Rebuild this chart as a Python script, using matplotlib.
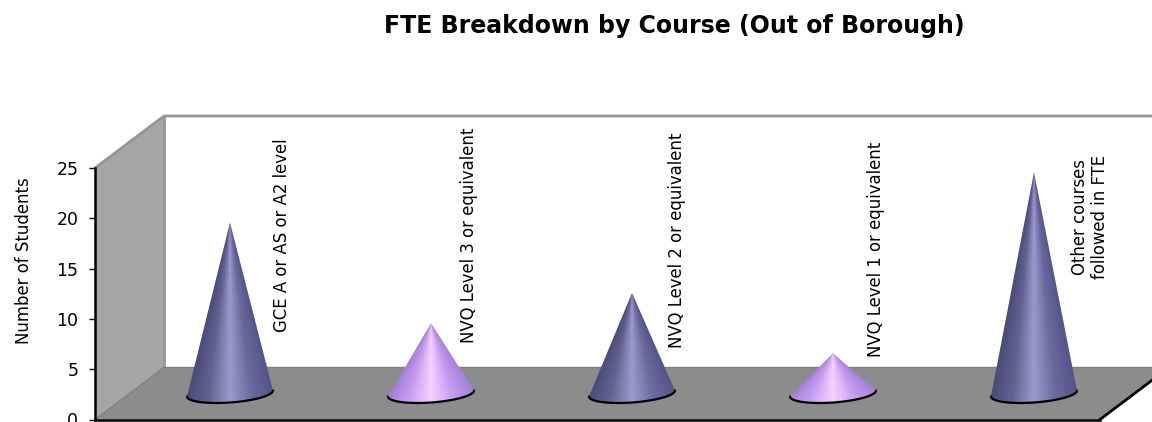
import numpy as np
import matplotlib
matplotlib.use('Agg')
import matplotlib.pyplot as plt
from matplotlib.colors import LinearSegmentedColormap
from matplotlib.patches import Polygon

plt.rcParams['font.family'] = ['DejaVu Sans']

title = 'FTE Breakdown by Course (Out of Borough)'
y_label = 'Number of Students'
courses = ['GCE A or AS or A2 level', 'NVQ Level 3 or equivalent', 'NVQ Level 2 or equivalent',
           'NVQ Level 1 or equivalent', 'Other courses\nfollowed in FTE']
students = [17, 7, 10, 4, 22]
y_ticks = [0, 5, 10, 15, 20, 25]

# pixel layout of the picture
W, H = 1152, 422
X0, X1, Y0, Y25 = 95, 1100, 419.5, 168
DX, DY = 69, 52
label_x = [282, 469, 677, 876, 1090]
label_y = [235, 235, 240, 249, 217]

blue = LinearSegmentedColormap.from_list('b', ['#4a4a78', '#62628f', '#9a9acf', '#6a6a9f', '#55558a'])
pink = LinearSegmentedColormap.from_list('p', ['#a07ad8', '#c49cf0', '#f8d0ff', '#c49cf0', '#a883dc'])

fig = plt.figure(figsize=(W / 100, H / 100), dpi=100)

# box walls and floor, in pixels
bg = fig.add_axes([0, 0, 1, 1])
bg.set_xlim(0, W)
bg.set_ylim(H, 0)
bg.axis('off')
bg.add_patch(Polygon([(X0, Y25), (X0 + DX, Y25 - DY), (X0 + DX, Y0 - DY), (X0, Y0)], fc='#a6a6a6', ec='none'))
bg.add_patch(Polygon([(X0, Y0), (X0 + DX, Y0 - DY), (X1 + DX, Y0 - DY), (X1, Y0)], fc='#8c8c8c', ec='none'))
grey = dict(color='#969696', lw=2, solid_capstyle='butt')
bg.plot([X0, X0 + DX, W], [Y25, Y25 - DY, Y25 - DY], **grey)
bg.plot([X0 + DX, X0 + DX], [Y25 - DY, Y0 - DY], **grey)
bg.plot([X0, X0 + DX, W], [Y0, Y0 - DY, Y0 - DY], color='#808080', lw=1)
bg.plot([X1, X1 + DX], [Y0, Y0 - DY], color='black', lw=2)

ax = fig.add_axes([X0 / W, 1 - Y0 / H, (X1 - X0) / W, (Y0 - Y25) / H])
ax.patch.set_alpha(0)

px_x = len(courses) / (X1 - X0)
px_y = 25 / (Y0 - Y25)
half_w = 43 * px_x
half_h = 9 * px_y
tilt = 3 * px_y
t = np.linspace(np.pi, 2 * np.pi, 60)

for i, (n, name) in enumerate(zip(students, courses)):
    cx = i + 0.5 + DX / 2 * px_x
    cy = DY / 2 * px_y
    ex = cx + half_w * np.cos(t)
    ey = cy + half_h * np.sin(t) + tilt * np.cos(t)
    poly = Polygon(np.column_stack([np.r_[cx, ex], np.r_[cy + n, ey]]), closed=True,
                   transform=ax.transData, fc='none', ec='none')
    ax.add_patch(poly)
    # shading follows the cone surface, so it narrows towards the tip
    low = cy - half_h - tilt
    gx, gy = np.meshgrid(np.linspace(-1, 1, 300), np.linspace(low, cy + n, 300))
    rad = np.clip(1 - (gy - cy) / n, 0.003, None)
    shade = np.clip(gx / rad, -1, 1) / 2 + 0.5
    im = ax.imshow(shade, extent=[cx - half_w, cx + half_w, low, cy + n], origin='lower',
                   cmap=pink if i in (1, 3) else blue, vmin=0, vmax=1, aspect='auto', zorder=2)
    im.set_clip_path(poly)
    ax.plot(ex, ey, color='black', lw=1.6, zorder=3, solid_capstyle='round')
    fig.text(label_x[i] / W, 1 - label_y[i] / H, name, rotation=90, ha='center', va='center',
             ma='center', fontsize=11.9, color='black', linespacing=1.2)

ax.set_xlim(0, len(courses))
ax.set_ylim(0, 25)
ax.set_xticks([])
ax.set_yticks(y_ticks)
ax.tick_params(axis='y', length=4, width=1, labelsize=12.5, pad=8)
ax.set_ylabel(y_label, fontsize=11.9)
ax.yaxis.set_label_coords(-62 / (X1 - X0), 0.63)
ax.spines['top'].set_visible(False)
ax.spines['right'].set_visible(False)
ax.spines['left'].set_linewidth(1.8)
ax.spines['bottom'].set_linewidth(1.8)

fig.text(674 / W, 1 - 26 / H, title, ha='center', va='center', fontsize=17, fontweight='bold')

fig.savefig('out.png', dpi=100)
